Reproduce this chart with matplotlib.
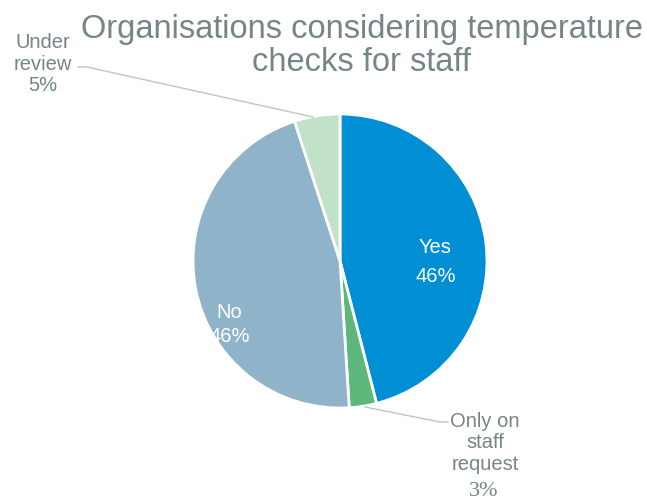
import matplotlib.pyplot as plt

# survey answers
labels = ['Yes', 'Only on\nstaff\nrequest', 'No', 'Under\nreview']
shares = [46, 3, 46, 5]
colors = ['#008FD5', '#5DB77A', '#8FB4C9', '#C2E1C9']

grey = '#768585'
plt.rcParams['font.family'] = ['Liberation Sans', 'DejaVu Sans']

fig = plt.figure(figsize=(6.47, 5.03), dpi=100)
ax = fig.add_axes([0, 0, 1, 1])

wedges, _ = ax.pie(shares, colors=colors, startangle=90, counterclock=False,
                   center=(340, 242), radius=147, frame=True,
                   wedgeprops=dict(edgecolor='white', linewidth=2))
ax.set_xlim(0, 647)
ax.set_ylim(0, 503)
ax.set_aspect('equal')
ax.axis('off')

# labels inside the big slices
ax.text(435, 256, labels[0], color='white', fontsize=14.5, ha='center', va='center')
ax.text(436, 227, f'{shares[0]}%', color='white', fontsize=14.5, ha='center', va='center')
ax.text(229, 191, labels[2], color='white', fontsize=14.5, ha='center', va='center')
ax.text(230, 167, f'{shares[2]}%', color='white', fontsize=14.5, ha='center', va='center')

# outside labels with leader lines
ax.text(43, 439, labels[3] + f'\n{shares[3]}%', color=grey, fontsize=14.5,
        ha='center', va='center', linespacing=1.15)
ax.plot([78, 87, 313], [436, 436, 386], color='#BFC5C5', lw=1)

ax.text(485, 60, labels[1], color=grey, fontsize=14.5,
        ha='center', va='center', linespacing=1.15)
ax.text(484, 12, f'{shares[1]}%', color=grey, fontsize=16,
        family='Liberation Serif', ha='center', va='center')
ax.plot([365, 440, 448], [96, 81, 81], color='#BFC5C5', lw=1)

ax.text(362, 457, 'Organisations considering temperature\nchecks for staff',
        color=grey, fontsize=23.5, ha='center', va='center', linespacing=1.12)

fig.savefig('out.png', dpi=100)
